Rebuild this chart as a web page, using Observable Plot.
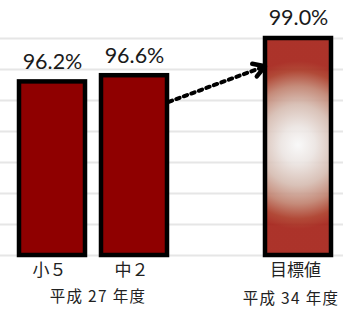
<!DOCTYPE html>
<html>
<head>
<meta charset="utf-8">
<script src="https://cdn.jsdelivr.net/npm/d3@7"></script>
<script src="https://cdn.jsdelivr.net/npm/@observablehq/plot@0.6"></script>
<style>
  html, body { margin: 0; padding: 0; background: #fff; }
  #chart svg { display: block; }
  #defs { position: absolute; width: 0; height: 0; }
</style>
</head>
<body>
<svg id="defs" width="0" height="0">
  <defs>
    <radialGradient id="goalGrad" gradientUnits="userSpaceOnUse" cx="0" cy="0" r="1">
      <stop offset="0" stop-color="#f8f8f8"/>
      <stop offset="0.22" stop-color="#ebe4e1"/>
      <stop offset="0.48" stop-color="#d5bbb0"/>
      <stop offset="0.7" stop-color="#bf7f6c"/>
      <stop offset="0.88" stop-color="#a93622"/>
      <stop offset="1" stop-color="#a31d13"/>
    </radialGradient>
  </defs>
</svg>
<div id="chart"></div>
<script>
// ---- data ----
const categories = ["小５", "中２", "目標値"];
const values = [96.2, 96.6, 99.0];
const valueLabels = ["96.2%", "96.6%", "99.0%"];
const periodLabels = ["平成 27 年度", "平成 34 年度"];
const gridValues = [85, 87, 89, 91, 93, 95, 97, 99];
const xDomain = ["小５", "中２", "", "目標値"];
const arrowStart = ["中２", 94.1];
const arrowEnd = ["目標値", 98.0];
const glowCenter = 92.1; // value at which the goal bar's glow is brightest

const data = categories.map((c, i) => ({category: c, value: values[i], label: valueLabels[i]}));
const actual = data.slice(0, 2);
const goal = data.slice(2);
const arrowData = [{c1: arrowStart[0], v1: arrowStart[1], c2: arrowEnd[0], v2: arrowEnd[1]}];

const latin = "Lato, 'Liberation Sans', Arial, sans-serif";
const cjk = "'Noto Sans CJK JP', 'Noto Sans', sans-serif";

const headShape = {
  draw(context, l) {
    const a = 31 * Math.PI / 180, arm = 13;
    context.moveTo(-arm * Math.sin(a), -l + arm * Math.cos(a));
    context.lineTo(0, -l);
    context.lineTo(arm * Math.sin(a), -l + arm * Math.cos(a));
  }
};

const chart = Plot.plot({
  width: 343,
  height: 312,
  marginTop: 38,
  marginBottom: 57,
  marginLeft: 0,
  marginRight: 0,
  style: {fontFamily: latin, background: "#fff"},
  x: {type: "band", domain: xDomain, range: [10.5, 338.5], paddingInner: 0.2, paddingOuter: 0.1, axis: null},
  y: {domain: [85, 99], axis: null},
  marks: [
    Plot.ruleY(gridValues, {stroke: "#e6e6e6", strokeWidth: 2}),
    Plot.barY(actual, {x: "category", y1: () => 85, y2: "value", fill: "#8f0000", stroke: "#000", strokeWidth: 4.5}),
    Plot.barY(goal, {x: "category", y1: () => 85, y2: "value", fill: "url(#goalGrad)", fillOpacity: 0.9, stroke: "#000", strokeWidth: 4.5}),
    Plot.arrow(arrowData, {x1: "c1", y1: "v1", x2: "c2", y2: "v2", headLength: 0, insetStart: 36.5, insetEnd: 37,
      stroke: "#000", strokeWidth: 4, strokeDasharray: "3.6 4.4"}),
    Plot.vector(arrowData, {x: "c2", y: "v2", length: 15, rotate: 70, anchor: "end", shape: headShape,
      dx: -33.5, dy: 12.3, stroke: "#000", strokeWidth: 4.5, strokeLinecap: "round", strokeLinejoin: "round"}),
    Plot.text(data, {x: "category", y: "value", text: "label", dy: -20, fontSize: 21.5, fill: "#1a1a1a", fontFamily: latin}),
    Plot.text(categories, {x: d => d, text: d => d, frameAnchor: "bottom", dy: 20, dx: -3, fontSize: 17, fill: "#222", fontFamily: cjk}),
    Plot.text([periodLabels[0]], {x: () => "中２", text: d => d, frameAnchor: "bottom", dy: 46, dx: -36.5, fontSize: 15.5, fill: "#222", fontFamily: cjk}),
    Plot.text([periodLabels[1]], {x: () => "目標値", text: d => d, frameAnchor: "bottom", dy: 48.5, dx: -7.5, fontSize: 15.5, fill: "#222", fontFamily: cjk})
  ]
});

// place the glow of the goal bar using the chart's own scales
const xs = chart.scale("x"), ys = chart.scale("y");
const gx = xs.apply("目標値") + xs.bandwidth / 2;
const gy = ys.apply(glowCenter);
document.getElementById("goalGrad").setAttribute("gradientTransform", `translate(${gx} ${gy}) scale(78 84)`);

chart.querySelectorAll("text").forEach(t => {
  if (t.textContent.startsWith("平成")) t.style.letterSpacing = "1.3px";
});
document.getElementById("chart").append(chart);
</script>
</body>
</html>
